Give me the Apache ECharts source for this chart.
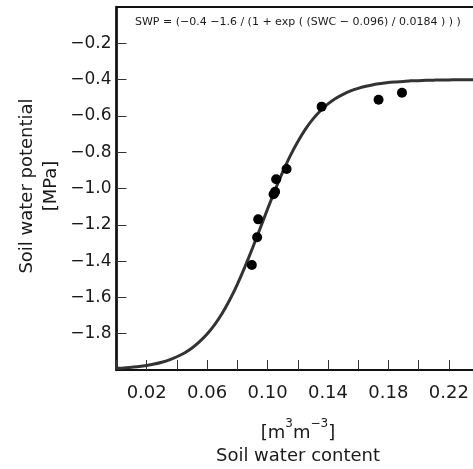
<!DOCTYPE html>
<html>
<head>
<meta charset="utf-8">
<script src="https://cdn.jsdelivr.net/npm/echarts@6/dist/echarts.min.js"></script>
<style>
  html, body { margin: 0; padding: 0; background: #fff; }
  #main { width: 473px; height: 469px; }
</style>
</head>
<body>
<div id="main"></div>
<script>
// fitted curve (every 0.005)
var curveSWC = [0, 0.005, 0.01, 0.015, 0.02, 0.025, 0.03, 0.035, 0.04, 0.045, 0.05, 0.055, 0.06, 0.065, 0.07, 0.075,
  0.08, 0.085, 0.09, 0.095, 0.10, 0.105, 0.11, 0.115, 0.12, 0.125, 0.13, 0.135, 0.14, 0.145, 0.15, 0.155,
  0.16, 0.165, 0.17, 0.175, 0.18, 0.185, 0.19, 0.195, 0.20, 0.205, 0.21, 0.215, 0.22, 0.225, 0.23, 0.235, 0.24];
var curveSWP = [-1.991, -1.989, -1.985, -1.981, -1.975, -1.967, -1.957, -1.944, -1.927, -1.906, -1.879, -1.844, -1.802, -1.750, -1.687, -1.613,
  -1.528, -1.432, -1.329, -1.222, -1.113, -1.008, -0.910, -0.820, -0.742, -0.674, -0.618, -0.572, -0.534, -0.504, -0.481, -0.462,
  -0.448, -0.437, -0.428, -0.422, -0.416, -0.413, -0.410, -0.407, -0.406, -0.404, -0.403, -0.402, -0.402, -0.401, -0.401, -0.401, -0.401];

// measured points
var obsSWC = [0.0896, 0.0931, 0.0938, 0.1040, 0.1050, 0.1057, 0.1126, 0.1358, 0.1735, 0.1890];
var obsSWP = [-1.421, -1.269, -1.170, -1.032, -1.018, -0.949, -0.893, -0.549, -0.511, -0.472];

var equation = 'SWP = (\u22120.4 \u22121.6 / (1 + exp ( (SWC \u2212 0.096) / 0.0184 ) ) )';
var yTitle = 'Soil water potential\n[MPa]';
var xTitle = 'Soil water content';

var FONT = 'DejaVu Sans';
var INK = '#1a1a1a';

function pairs(xs, ys) {
  var out = [];
  for (var i = 0; i < xs.length; i++) out.push([xs[i], ys[i]]);
  return out;
}

var myChart = echarts.init(document.getElementById('main'), null, { renderer: 'canvas' });

var option = {
  animation: false,
  backgroundColor: '#fff',
  // box: right edge pushed just past the window so only left/top/bottom show
  grid: {
    left: 116.5, right: -3, top: 7, bottom: 99,
    outerBoundsMode: 'none',
    containLabel: false,
    show: true, borderColor: '#111', borderWidth: 2, backgroundColor: 'transparent'
  },
  xAxis: {
    type: 'value',
    position: 'bottom',
    min: 0,
    max: 0.238,
    interval: 0.02,
    splitLine: { show: false },
    axisLine: { show: true, onZero: false, lineStyle: { color: '#111', width: 2 } },
    axisTick: { show: true, inside: true, length: 10, lineStyle: { color: '#333', width: 1 } },
    axisLabel: {
      margin: 14,
      fontFamily: FONT,
      fontSize: 18,
      color: INK,
      showMaxLabel: false,
      formatter: function (v) {
        var k = Math.round(v * 100);
        if (k % 4 !== 2) return '';
        return v.toFixed(2);
      }
    }
  },
  yAxis: {
    type: 'value',
    position: 'left',
    min: -2,
    max: 0,
    interval: 0.2,
    splitLine: { show: false },
    axisLine: { show: true, onZero: false, lineStyle: { color: '#111', width: 2.5 } },
    axisTick: { show: true, inside: true, length: 10, lineStyle: { color: '#333', width: 1 } },
    axisLabel: {
      margin: 5,
      fontFamily: FONT,
      fontSize: 17,
      color: INK,
      showMinLabel: false,
      showMaxLabel: false,
      formatter: function (v) {
        if (v <= -1.99 || v >= -0.01) return '';
        return v.toFixed(1).replace('-', '\u2212');
      }
    }
  },
  series: [{
    type: 'line',
    data: pairs(curveSWC, curveSWP),
    showSymbol: false,
    smooth: 0.2,
    clip: true,
    lineStyle: { color: '#333', width: 3 },
    z: 2
  }, {
    type: 'scatter',
    data: pairs(obsSWC, obsSWP),
    symbol: 'circle',
    symbolSize: 10,
    itemStyle: { color: '#000', opacity: 1 },
    z: 3
  }],
  graphic: [{
    type: 'text',
    left: 135,
    top: 17,
    style: { text: equation, fontFamily: FONT, fontSize: 11, fill: INK }
  }, {
    type: 'text',
    x: 39,
    y: 186,
    rotation: Math.PI / 2,
    style: {
      text: yTitle,
      fontFamily: FONT,
      fontSize: 18,
      lineHeight: 24,
      fill: INK,
      align: 'center',
      verticalAlign: 'middle'
    }
  }, {
    type: 'text',
    x: 298,
    y: 430,
    style: {
      text: '{n|[m}{s|3}{n|m}{s|\u22123}{n|]}',
      align: 'center',
      verticalAlign: 'middle',
      fill: INK,
      rich: {
        n: { fontFamily: FONT, fontSize: 18, lineHeight: 24, fill: INK, verticalAlign: 'bottom' },
        s: { fontFamily: FONT, fontSize: 12, lineHeight: 14, fill: INK, verticalAlign: 'top' }
      }
    }
  }, {
    type: 'text',
    x: 298,
    y: 456,
    style: {
      text: xTitle,
      fontFamily: FONT,
      fontSize: 18,
      fill: INK,
      align: 'center',
      verticalAlign: 'middle'
    }
  }]
};

myChart.setOption(option);
</script>
</body>
</html>
